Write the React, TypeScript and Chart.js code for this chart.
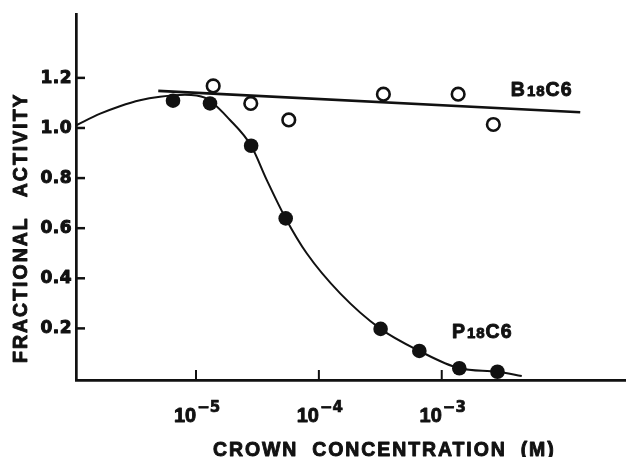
import React, { useEffect, useRef } from "react";
import { Chart, registerables } from "chart.js";

Chart.register(...registerables);

const INK = "#111111";

// P18C6 measured points (filled circles)
const p18c6Conc = [6.5e-6, 1.3e-5, 2.81e-5, 5.37e-5, 3.18e-4, 6.57e-4, 1.39e-3, 2.84e-3];
const p18c6Activity = [1.109, 1.098, 0.929, 0.639, 0.198, 0.11, 0.041, 0.027];

// B18C6 measured points (open circles)
const b18c6Conc = [1.38e-5, 2.79e-5, 5.69e-5, 3.35e-4, 1.36e-3, 2.63e-3];
const b18c6Activity = [1.168, 1.098, 1.032, 1.135, 1.135, 1.014];

// P18C6 fitted curve
const p18c6CurveConc = [
  1.07e-6, 1.66e-6, 2.4e-6, 3.5e-6, 5.09e-6, 8.13e-6, 1.18e-5, 1.89e-5, 2.81e-5,
  3.77e-5, 5.37e-5, 7.96e-5, 1.49e-4, 3.18e-4, 6.57e-4, 1.39e-3, 2.84e-3, 4.48e-3,
];
const p18c6CurveActivity = [
  1.012, 1.057, 1.087, 1.111, 1.125, 1.133, 1.121, 1.032, 0.929,
  0.792, 0.639, 0.5, 0.34, 0.198, 0.11, 0.041, 0.027, 0.01,
];

// B18C6 straight fitted line
const b18c6LineConc = [4.93e-6, 1.34e-2];
const b18c6LineActivity = [1.148, 1.063];

// Axes
const xTickValues = [1e-5, 1e-4, 1e-3];
const xTickBase = "10";
const xTickExponents = ["\u22125", "\u22124", "\u22123"];
const yTickValues = [0.2, 0.4, 0.6, 0.8, 1.0, 1.2];
const yTickLabels = ["0.2", "0.4", "0.6", "0.8", "1.0", "1.2"];
const xTitle = "CROWN CONCENTRATION (M)";
const yTitle = "FRACTIONAL ACTIVITY";

// Series labels: [prefix, small digits, suffix]
const seriesLabels = [
  { parts: ["B", "18", "C6"], x: 3.65e-3, y: 1.127 },
  { parts: ["P", "18", "C6"], x: 1.21e-3, y: 0.16 },
];

const TITLE_FONT = 'bold 19.5px "Liberation Sans", Arial, sans-serif';

function heavyText(ctx: any, t: string, x: number, y: number, w = 0.9) {
  ctx.lineWidth = w;
  ctx.lineJoin = "round";
  ctx.strokeText(t, x, y);
  ctx.fillText(t, x, y);
}

function drawWords(ctx: any, words: string[], gap: number) {
  let pos = 0;
  for (const w of words) {
    heavyText(ctx, w, pos, 0);
    pos += ctx.measureText(w).width + gap;
  }
}

const decorPlugin = {
  id: "decor",
  afterDraw(chart: any) {
    const ctx = chart.ctx;
    const xs = chart.scales.x;
    const ys = chart.scales.y;
    const area = chart.chartArea;
    ctx.save();
    ctx.strokeStyle = INK;
    ctx.fillStyle = INK;

    // Y ticks (inward) and labels
    ctx.font = 'bold 17px "DejaVu Sans", sans-serif';
    ctx.letterSpacing = "0.5px";
    ctx.textAlign = "right";
    ctx.textBaseline = "middle";
    yTickValues.forEach((v, i) => {
      const py = ys.getPixelForValue(v);
      ctx.lineWidth = 2.5;
      ctx.beginPath();
      ctx.moveTo(area.left, py);
      ctx.lineTo(area.left + 9, py);
      ctx.stroke();
      heavyText(ctx, yTickLabels[i], area.left - 4, py + 0.5, 1);
    });

    // X ticks (inward) and labels with superscript
    ctx.letterSpacing = "0px";
    ctx.textAlign = "left";
    ctx.textBaseline = "alphabetic";
    const baseFont = 'bold 20px "Liberation Sans", Arial, sans-serif';
    const supFont = 'bold 15px "DejaVu Sans", sans-serif';
    xTickValues.forEach((v, i) => {
      const px = xs.getPixelForValue(v);
      ctx.lineWidth = 2;
      ctx.beginPath();
      ctx.moveTo(px, area.bottom);
      ctx.lineTo(px, area.bottom - 10);
      ctx.stroke();
      ctx.font = baseFont;
      const bw = ctx.measureText(xTickBase).width;
      ctx.font = supFont;
      const sw = ctx.measureText(xTickExponents[i]).width;
      const total = bw + 1 + sw;
      const x0 = px - total / 2 + 1;
      const baseY = area.bottom + 42;
      ctx.font = baseFont;
      heavyText(ctx, xTickBase, x0, baseY, 0.9);
      ctx.font = supFont;
      heavyText(ctx, xTickExponents[i], x0 + bw + 1, baseY - 10, 0.7);
    });

    // X title
    ctx.font = TITLE_FONT;
    ctx.letterSpacing = "1.9px";
    ctx.save();
    ctx.translate(213, 455.5);
    drawWords(ctx, xTitle.split(" "), 14);
    ctx.restore();

    // Y title (rotated)
    ctx.letterSpacing = "2px";
    ctx.save();
    ctx.translate(26.7, 363);
    ctx.rotate(-Math.PI / 2);
    drawWords(ctx, yTitle.split(" "), 19);
    ctx.restore();

    // Series labels
    ctx.letterSpacing = "1px";
    seriesLabels.forEach((lab) => {
      let px = xs.getPixelForValue(lab.x);
      const py = ys.getPixelForValue(lab.y);
      const fonts = [
        'bold 19.5px "Liberation Sans", Arial, sans-serif',
        'bold 15px "Liberation Sans", Arial, sans-serif',
        'bold 19.5px "Liberation Sans", Arial, sans-serif',
      ];
      lab.parts.forEach((t, k) => {
        ctx.font = fonts[k];
        heavyText(ctx, t, px, py, 0.9);
        px += ctx.measureText(t).width + (k === 0 ? 1 : 0);
      });
    });

    ctx.restore();
  },
};

export default function App() {
  const canvasRef = useRef<HTMLCanvasElement | null>(null);

  useEffect(() => {
    document.body.style.margin = "0";
    const canvas = canvasRef.current;
    if (!canvas) return;
    const toPts = (xsArr: number[], ysArr: number[]) =>
      xsArr.map((x, i) => ({ x, y: ysArr[i] }));

    const chart = new Chart(canvas, {
      type: "scatter",
      data: {
        datasets: [
          {
            label: "P18C6",
            data: toPts(p18c6Conc, p18c6Activity),
            showLine: false,
            pointRadius: 7.3,
            pointBackgroundColor: INK,
            pointBorderColor: INK,
            pointBorderWidth: 0,
          },
          {
            label: "B18C6",
            data: toPts(b18c6Conc, b18c6Activity),
            showLine: false,
            pointRadius: 6.3,
            pointBackgroundColor: "#ffffff",
            pointBorderColor: INK,
            pointBorderWidth: 2.6,
          },
          {
            label: "P18C6 fit",
            data: toPts(p18c6CurveConc, p18c6CurveActivity),
            showLine: true,
            pointRadius: 0,
            borderColor: INK,
            borderWidth: 2,
            tension: 0.4,
            cubicInterpolationMode: "monotone",
            fill: false,
          } as any,
          {
            label: "B18C6 fit",
            data: toPts(b18c6LineConc, b18c6LineActivity),
            showLine: true,
            pointRadius: 0,
            borderColor: INK,
            borderWidth: 2.6,
            fill: false,
          },
        ],
      },
      options: {
        animation: false,
        responsive: false,
        events: [],
        layout: {
          autoPadding: false,
          padding: { left: 76, top: 14, right: 0, bottom: 77 },
        },
        plugins: {
          legend: { display: false },
          tooltip: { enabled: false },
        },
        scales: {
          x: {
            type: "logarithmic",
            min: 1.055e-6,
            max: 3.16e-2,
            grid: { display: false, drawTicks: false },
            border: { display: true, color: INK, width: 2.7 },
            ticks: { display: false },
          },
          y: {
            type: "linear",
            min: -0.006,
            max: 1.455,
            grid: { display: false, drawTicks: false },
            border: { display: true, color: INK, width: 2.7 },
            ticks: { display: false },
          },
        },
      } as any,
      plugins: [decorPlugin],
    });

    return () => {
      chart.destroy();
    };
  }, []);

  return (
    <div style={{ width: 626, height: 457, background: "#ffffff" }}>
      <canvas ref={canvasRef} width={626} height={457} />
    </div>
  );
}
